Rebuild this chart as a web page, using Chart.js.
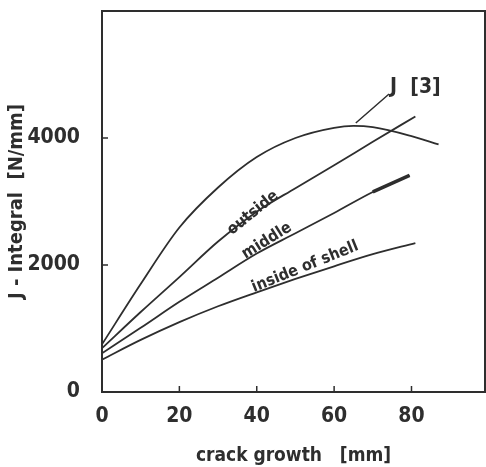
<!DOCTYPE html>
<html>
<head>
<meta charset="utf-8">
<script src="https://cdn.jsdelivr.net/npm/chart.js@4/dist/chart.umd.min.js"></script>
<style>
  html, body { margin: 0; padding: 0; background: #fff; }
  #wrap { width: 486px; height: 467px; }
</style>
</head>
<body>
<div id="wrap"><canvas id="chart"></canvas></div>
<script>
// ── data ──────────────────────────────────────────────────────────
const xJ3     = [0, 10, 20, 30, 40, 50, 60, 65, 70, 80, 87]
const j3      = [750, 1700, 2590, 3220, 3700, 4000, 4160, 4190, 4170, 4030, 3900]

const xOut    = [0, 10, 20, 30, 40, 50, 60, 70, 81]
const outside = [690, 1260, 1810, 2370, 2840, 3210, 3570, 3940, 4340]

const xMid    = [0, 10, 20, 30, 40, 50, 60, 70, 79.5]
const middle  = [610, 1010, 1420, 1800, 2180, 2500, 2820, 3150, 3410]

const xIn     = [0, 10, 20, 30, 40, 50, 60, 70, 81]
const inside  = [510, 820, 1100, 1350, 1570, 1780, 1980, 2170, 2346]

const xTicks  = [0, 20, 40, 60, 80]
const yTicks  = [0, 2000, 4000]

const FONT = "'DejaVu Sans', sans-serif"
const WEIGHT = "condensed bold"
const INK  = "#2e2e2e"

const pts = (xs, ys) => xs.map((x, i) => ({ x, y: ys[i] }))

const line = (data, width = 1.8) => ({
  data,
  borderColor: INK,
  borderWidth: width,
  pointRadius: 0,
  fill: false,
  cubicInterpolationMode: "monotone",
})

// the thicker tail of the "middle" curve
const midTail = pts(xMid, middle).filter(p => p.x >= 70)

// ── frame, inward ticks and curve labels ──────────────────────────
const notes = [
  { text: "outside",         x: 39.0, y: 2820, rot: -39, size: 16 },
  { text: "middle",          x: 42.6, y: 2380, rot: -32, size: 16 },
  { text: "inside of shell", x: 52.5, y: 1970, rot: -22, size: 16 },
  { text: "J  [3]",          x: 81.0, y: 4800, rot: 0,   size: 21 },
]

const decor = {
  id: "decor",
  afterDraw(chart) {
    const { ctx, chartArea: a, scales: { x, y } } = chart
    ctx.save()
    ctx.strokeStyle = INK
    ctx.lineWidth = 2
    ctx.strokeRect(a.left, a.top, a.right - a.left, a.bottom - a.top)

    ctx.lineWidth = 1.5
    ctx.beginPath()
    xTicks.forEach(v => {
      const px = x.getPixelForValue(v)
      ctx.moveTo(px, a.bottom); ctx.lineTo(px, a.bottom - 6)
    })
    yTicks.forEach(v => {
      const py = y.getPixelForValue(v)
      ctx.moveTo(a.left, py); ctx.lineTo(a.left + 6, py)
    })
    // leader line to "J [3]"
    ctx.moveTo(x.getPixelForValue(65.6), y.getPixelForValue(4236))
    ctx.lineTo(x.getPixelForValue(74.2), y.getPixelForValue(4693))
    ctx.stroke()

    ctx.fillStyle = INK
    ctx.textAlign = "center"
    ctx.textBaseline = "middle"
    notes.forEach(n => {
      ctx.save()
      ctx.translate(x.getPixelForValue(n.x), y.getPixelForValue(n.y))
      ctx.rotate(n.rot * Math.PI / 180)
      ctx.font = `${WEIGHT} ${n.size}px ${FONT}`
      ctx.fillText(n.text, 0, 0)
      ctx.restore()
    })
    ctx.restore()
  }
}

const noPad = s => { s.paddingTop = 0; s.paddingBottom = 0; s.paddingLeft = 0; s.paddingRight = 0 }

new Chart(document.getElementById("chart"), {
  type: "line",
  data: {
    datasets: [
      line(pts(xJ3, j3)),
      line(pts(xOut, outside)),
      line(pts(xMid, middle)),
      line(midTail, 3.6),
      line(pts(xIn, inside)),
    ]
  },
  options: {
    responsive: true,
    maintainAspectRatio: false,
    animation: false,
    layout: { padding: { top: 11, right: 1, left: 0, bottom: 0 } },
    plugins: { legend: { display: false }, tooltip: { enabled: false } },
    scales: {
      x: {
        type: "linear",
        min: 0,
        max: 99,
        afterBuildTicks: s => { s.ticks = xTicks.map(value => ({ value })) },
        afterFit: s => { s.height = 75; noPad(s) },
        grid: { display: false, drawTicks: false },
        border: { display: false },
        ticks: {
          padding: 12,
          color: INK,
          callback: v => String(v),
          font: { family: FONT, size: 21, weight: WEIGHT },
        },
        title: {
          display: true,
          text: "crack growth   [mm]",
          color: INK,
          padding: { top: 0, bottom: 0 },
          font: { family: FONT, size: 19, weight: WEIGHT },
        }
      },
      y: {
        min: 0,
        max: 6000,
        afterBuildTicks: s => { s.ticks = yTicks.map(value => ({ value })) },
        afterFit: s => { s.width = 102; noPad(s) },
        grid: { display: false, drawTicks: false },
        border: { display: false },
        ticks: {
          padding: 22,
          color: INK,
          callback: v => String(v),
          font: { family: FONT, size: 21, weight: WEIGHT },
        },
        title: {
          display: true,
          text: "J - Integral  [N/mm]",
          color: INK,
          padding: { top: 5, bottom: 0 },
          font: { family: FONT, size: 20, weight: WEIGHT },
        }
      }
    }
  },
  plugins: [decor]
})
</script>
</body>
</html>
